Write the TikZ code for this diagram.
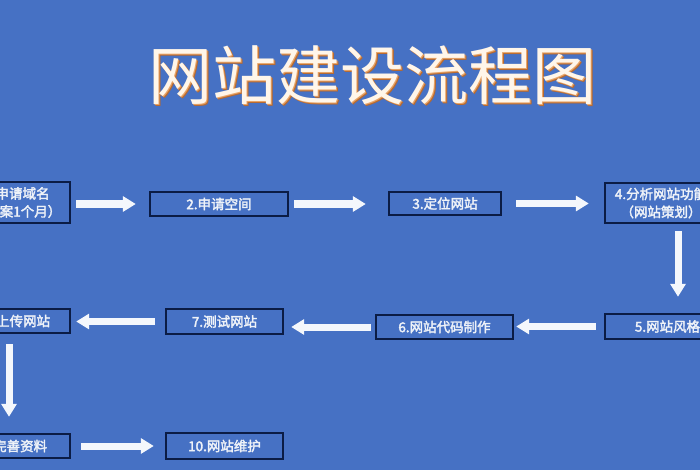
\documentclass[tikz,border=0pt]{standalone}
\usepackage{fontspec}
\newfontfamily\cjk{Noto Sans CJK SC}
\newfontfamily\cjkb{Noto Sans CJK SC}[FakeBold=2.5]
\usetikzlibrary{arrows.meta,calc}
\definecolor{bg}{HTML}{4671C4}
\definecolor{navy}{HTML}{0B1C45}
\definecolor{txt}{HTML}{EEF2F8}
\definecolor{arrw}{HTML}{F4F7FC}
\definecolor{shad}{HTML}{B86A30}
\definecolor{edgec}{HTML}{E9A466}
\definecolor{cream}{HTML}{FFF6EA}
\begin{document}
\begin{tikzpicture}[x=1pt,y=-1pt,
  stepbox/.style={draw=navy, line width=2.4pt, fill=bg, text=txt,
    font=\cjkb\fontsize{13.5}{18}\selectfont, inner sep=0pt, align=center},
  flow/.style={draw=arrw, line width=7pt, -{Triangle[width=15pt,length=13pt]}},
  titlefont/.style={font=\cjk\fontsize{64}{70}\selectfont, inner sep=0pt}]
\fill[bg] (0,0) rectangle (700,470);
\useasboundingbox (0,0) rectangle (700,470);
% title
\node[titlefont, text=shad] (tshadow) at (374.5,77.5) {网站建设流程图};
\node[titlefont, text=edgec] (tedge) at (373.2,76.2) {网站建设流程图};
\node[titlefont, text=cream] (title) at (372,75) {网站建设流程图};
% boxes
\node[stepbox, minimum width=106pt, minimum height=41pt] (b1) at (17,202.5) {1.申请域名\\（备案1个月）};
\node[stepbox, minimum width=138pt, minimum height=24pt] (b2) at (219,204) {2.申请空间};
\node[stepbox, minimum width=112pt, minimum height=23pt] (b3) at (445,203.5) {3.定位网站};
\node[stepbox, minimum width=112pt, minimum height=40pt] (b4) at (661,203) {4.分析网站功能\\（网站策划）};
\node[stepbox, minimum width=152pt, minimum height=25pt] (b5) at (681,326.5) {5.网站风格设计};
\node[stepbox, minimum width=137pt, minimum height=24pt] (b6) at (444.5,327) {6.网站代码制作};
\node[stepbox, minimum width=117pt, minimum height=25pt] (b7) at (224.5,321.5) {7.测试网站};
\node[stepbox, minimum width=105pt, minimum height=24pt] (b8) at (17.5,321) {8.上传网站};
\node[stepbox, minimum width=111pt, minimum height=24pt] (b9) at (14.5,446) {9.完善资料};
\node[stepbox, minimum width=117pt, minimum height=26pt] (b10) at (224.5,446) {10.网站维护};
% arrows
\draw[flow] ($(b1.east|-b2.west)+(5,0)$) -- ($(b2.west)+(-13,0)$);
\draw[flow] ($(b2.east)+(5,0)$) -- ($(b3.west|-b2.east)+(-22,0)$);
\draw[flow] ($(b3.east)+(14,0)$) -- ($(b4.west|-b3.east)+(-15,0)$);
\draw[flow] ($(b4.south)+(17,7)$) -- ($(b5.north)+(-3,-16)$);
\draw[flow] ($(b5.west)+(-8,0)$) -- ($(b6.east|-b5.west)+(2,0)$);
\draw[flow] ($(b6.west)+(-4,0)$) -- ($(b7.east|-b6.west)+(7,0)$);
\draw[flow] ($(b7.west)+(-10,0)$) -- ($(b8.east|-b7.west)+(5,0)$);
\draw[flow] ($(b8.south)+(-8.5,10)$) -- ($(b9.north)+(-5.5,-16)$);
\draw[flow] ($(b9.east)+(10,0)$) -- ($(b10.west|-b9.east)+(-11,0)$);
\end{tikzpicture}
\end{document}
